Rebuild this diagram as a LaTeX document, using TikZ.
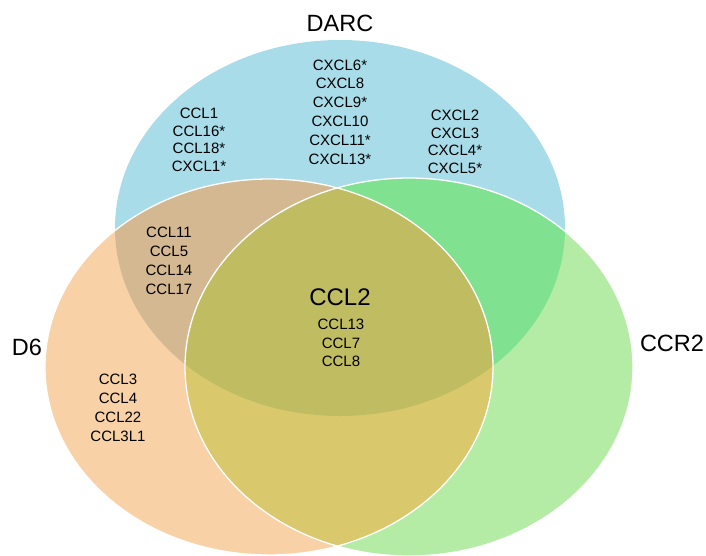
\documentclass[tikz,border=0pt]{standalone}
\usepackage{fontspec}
\setmainfont{Liberation Sans}
\definecolor{cblue}{HTML}{A9DCE9}
\definecolor{corange}{HTML}{F8D2A6}
\definecolor{cgreen}{HTML}{B4ECA6}
\definecolor{ctan}{HTML}{D4B892}
\definecolor{cbg}{HTML}{80E291}
\definecolor{cyel}{HTML}{DAC86C}
\definecolor{colive}{HTML}{C0BC62}
\tikzset{
  setlabel/.style={font=\fontsize{23.5}{28}\selectfont, inner sep=0pt},
  genes/.style={font=\fontsize{15}{17.6}\selectfont, align=center, inner sep=0pt},
  genesb/.style={font=\fontsize{15}{18.8}\selectfont, align=center, inner sep=0pt},
  rim/.style={draw=white, line width=1.3pt}
}
\begin{document}
\begin{tikzpicture}[x=1pt,y=-1pt]
\useasboundingbox (0,0) rectangle (706,555);
% base fills
\fill[cblue] (340,228) ellipse [x radius=225, y radius=188];
\fill[corange] (269,367) ellipse [x radius=224, y radius=188];
\fill[cgreen] (409,367) ellipse [x radius=224, y radius=189];
% pairwise overlaps
\begin{scope}
  \clip (269,367) ellipse [x radius=224, y radius=188];
  \fill[ctan] (340,228) ellipse [x radius=225, y radius=188];
\end{scope}
\begin{scope}
  \clip (409,367) ellipse [x radius=224, y radius=189];
  \fill[cbg] (340,228) ellipse [x radius=225, y radius=188];
\end{scope}
\begin{scope}
  \clip (269,367) ellipse [x radius=224, y radius=188];
  \fill[cyel] (409,367) ellipse [x radius=224, y radius=189];
\end{scope}
\begin{scope}
  \clip (269,367) ellipse [x radius=224, y radius=188];
  \clip (409,367) ellipse [x radius=224, y radius=189];
  \fill[colive] (340,228) ellipse [x radius=225, y radius=188];
\end{scope}
% white rims
\draw[rim] (269,367) ellipse [x radius=224, y radius=188];
\draw[rim] (409,367) ellipse [x radius=224, y radius=189];
% labels
\node[setlabel] (darc) at (340,23) {DARC};
\node[setlabel] (d6) at (27,347) {D6};
\node[setlabel] (ccr2) at (672,343) {CCR2};
\node[font=\fontsize{24}{28}\selectfont, inner sep=0pt] (ccl2) at (340,297) {CCL2};
% gene lists
\node[genesb] (darcmid) at (340,112) {CXCL6*\\CXCL8\\CXCL9*\\CXCL10\\CXCL11*\\CXCL13*};
\node[genes] (darcleft) at (199,140) {CCL1\\CCL16*\\CCL18*\\CXCL1*};
\node[genes] (darcright) at (455,142) {CXCL2\\CXCL3\\CXCL4*\\CXCL5*};
\node[genesb] (darcd6) at (169,261) {CCL11\\CCL5\\CCL14\\CCL17};
\node[genesb] (d6only) at (118,408) {CCL3\\CCL4\\CCL22\\CCL3L1};
\node[genesb] (core) at (341,343) {CCL13\\CCL7\\CCL8};
\end{tikzpicture}
\end{document}
